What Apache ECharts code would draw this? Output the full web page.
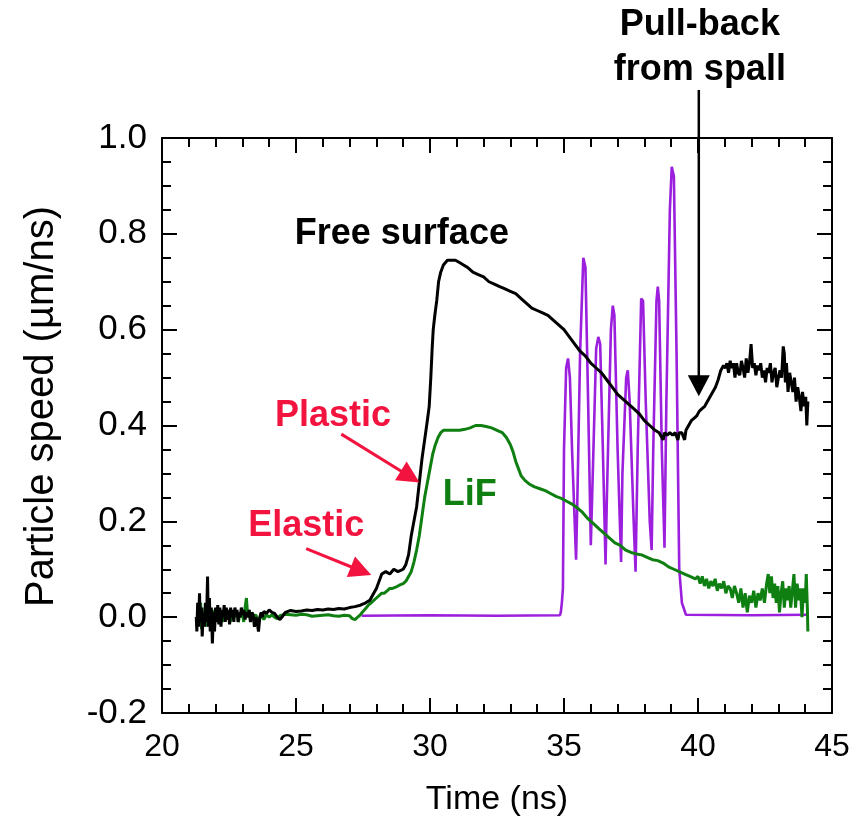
<!DOCTYPE html>
<html>
<head>
<meta charset="utf-8">
<script src="https://cdn.jsdelivr.net/npm/echarts@6/dist/echarts.min.js"></script>
<style>
  html, body { margin: 0; padding: 0; background: #fff; }
  #chart { width: 867px; height: 822px; }
</style>
</head>
<body>
<div id="chart"></div>
<script>
// Free-surface velocity trace, [time ns, speed um/ns]
const freeSurface = [
  [21.28,0.00],[21.30,-0.03],[21.33,0.03],[21.36,-0.02],[21.40,0.05],[21.43,-0.01],[21.47,0.02],[21.50,-0.04],
  [21.54,0.01],[21.58,-0.02],[21.62,0.03],[21.66,-0.01],[21.70,0.085],[21.73,-0.02],[21.77,0.04],[21.80,-0.03],
  [21.84,0.02],[21.88,-0.055],[21.92,0.01],[21.96,-0.03],[22.00,0.02],[22.04,-0.01],[22.08,0.025],[22.12,-0.015],
  [22.16,0.02],[22.20,-0.02],[22.24,0.015],[22.28,0.00],[22.32,0.025],[22.36,-0.01],[22.40,0.02],[22.44,-0.005],
  [22.48,0.015],[22.52,-0.015],[22.56,0.02],[22.60,0.00],[22.64,0.015],[22.68,-0.01],[22.72,0.02],[22.76,0.005],
  [22.80,0.015],[22.84,-0.01],[22.88,0.01],[22.92,0.00],[22.96,0.02],[23.00,0.005],[23.05,0.015],[23.10,-0.005],
  [23.15,0.01],[23.20,0.00],[23.25,0.015],[23.30,-0.01],[23.35,0.01],[23.40,0.005],[23.45,-0.02],[23.50,0.00],
  [23.55,-0.01],[23.60,-0.03],[23.65,0.00],[23.70,0.01],[23.75,0.00],[23.80,0.012],[23.90,0.008],[24.00,0.015],
  [24.10,0.01],[24.20,0.008],[24.30,0.00],[24.40,-0.005],[24.50,0.002],[24.60,0.01],[24.70,0.012],[24.80,0.014],
  [25.00,0.012],[25.20,0.013],[25.40,0.015],[25.60,0.014],[25.80,0.016],[26.00,0.015],[26.20,0.017],[26.40,0.016],
  [26.60,0.018],[26.80,0.017],[27.00,0.02],[27.20,0.022],[27.40,0.025],[27.60,0.03],[27.75,0.035],[27.90,0.05],
  [28.00,0.06],[28.10,0.075],[28.20,0.09],[28.35,0.095],[28.50,0.09],[28.65,0.10],[28.80,0.095],[29.00,0.10],
  [29.10,0.11],[29.20,0.13],[29.30,0.17],[29.40,0.20],[29.50,0.23],[29.60,0.28],[29.70,0.33],[29.80,0.37],
  [29.90,0.41],[29.97,0.44],[30.03,0.50],[30.08,0.56],[30.12,0.60],[30.18,0.63],[30.25,0.66],[30.32,0.70],
  [30.40,0.72],[30.50,0.735],[30.65,0.745],[30.80,0.745],[30.95,0.745],[31.10,0.74],[31.25,0.735],[31.40,0.73],
  [31.60,0.72],[31.80,0.715],[32.00,0.71],[32.20,0.70],[32.40,0.695],[32.60,0.69],[32.80,0.685],[33.00,0.68],
  [33.20,0.675],[33.40,0.665],[33.60,0.655],[33.80,0.645],[34.00,0.64],[34.20,0.635],[34.40,0.63],[34.60,0.62],
  [34.80,0.61],[35.00,0.60],[35.20,0.585],[35.40,0.57],[35.60,0.555],[35.80,0.545],[36.00,0.53],[36.20,0.52],
  [36.40,0.51],[36.60,0.495],[36.80,0.48],[37.00,0.465],[37.20,0.455],[37.40,0.445],[37.60,0.435],[37.80,0.425],
  [38.00,0.41],[38.20,0.40],[38.40,0.39],[38.55,0.385],[38.65,0.375],[38.70,0.37],[38.75,0.385],[38.85,0.38],
  [38.95,0.385],[39.05,0.38],[39.15,0.385],[39.25,0.37],[39.30,0.385],[39.40,0.385],[39.50,0.37],[39.55,0.39],
  [39.65,0.40],[39.75,0.41],[39.85,0.415],[39.95,0.42],[40.05,0.43],[40.15,0.435],[40.25,0.44],[40.35,0.45],
  [40.45,0.46],[40.55,0.47],[40.65,0.48],[40.75,0.495],[40.85,0.515],[40.95,0.525],[41.02,0.52],[41.08,0.53],
  [41.14,0.51],[41.20,0.535],[41.26,0.52],[41.32,0.53],[41.38,0.50],[41.44,0.53],[41.50,0.51],[41.56,0.505],
  [41.62,0.535],[41.68,0.52],[41.74,0.50],[41.80,0.54],[41.86,0.51],[41.92,0.53],[41.98,0.57],[42.04,0.52],
  [42.10,0.53],[42.16,0.505],[42.22,0.525],[42.28,0.515],[42.34,0.53],[42.40,0.50],[42.46,0.515],[42.52,0.49],
  [42.58,0.52],[42.64,0.51],[42.70,0.53],[42.76,0.49],[42.82,0.51],[42.88,0.52],[42.94,0.48],[43.00,0.50],
  [43.06,0.515],[43.12,0.50],[43.18,0.565],[43.22,0.55],[43.26,0.49],[43.30,0.53],[43.36,0.47],[43.42,0.51],
  [43.48,0.49],[43.54,0.47],[43.60,0.50],[43.66,0.45],[43.72,0.48],[43.78,0.46],[43.84,0.43],[43.90,0.47],
  [43.96,0.44],[44.02,0.46],[44.06,0.40],[44.10,0.45]
];

// LiF window interface trace
const lifWindow = [
  [21.28,0.00],[21.32,-0.02],[21.36,0.02],[21.40,-0.01],[21.44,0.03],[21.48,-0.025],[21.52,0.01],[21.56,-0.01],
  [21.60,0.02],[21.64,-0.02],[21.68,0.015],[21.72,-0.01],[21.76,0.02],[21.80,-0.015],[21.84,0.01],[21.88,-0.02],
  [21.92,0.015],[21.96,-0.005],[22.00,0.01],[22.05,-0.01],[22.10,0.015],[22.15,0.00],[22.20,0.01],[22.25,-0.01],
  [22.30,0.015],[22.35,0.00],[22.40,0.01],[22.45,-0.005],[22.50,0.01],[22.55,-0.01],[22.60,0.005],[22.65,-0.005],
  [22.70,0.01],[22.75,0.00],[22.80,0.01],[22.85,-0.01],[22.90,0.005],[22.95,0.00],[23.00,0.01],[23.05,-0.01],
  [23.10,0.02],[23.15,0.04],[23.20,0.00],[23.25,0.015],[23.30,-0.005],[23.35,0.01],[23.40,0.00],[23.50,0.005],
  [23.60,-0.01],[23.70,0.005],[23.80,-0.005],[23.90,0.005],[24.00,0.00],[24.10,0.005],[24.20,0.00],[24.30,-0.003],
  [24.40,0.003],[24.60,0.006],[24.80,0.005],[25.00,0.004],[25.20,0.006],[25.40,0.005],[25.60,0.002],[25.80,0.003],
  [26.00,0.004],[26.20,0.005],[26.40,0.003],[26.60,0.002],[26.80,0.004],[27.00,0.003],[27.10,-0.003],[27.20,-0.005],
  [27.30,0.00],[27.40,0.005],[27.50,0.012],[27.60,0.018],[27.70,0.025],[27.80,0.03],[27.90,0.035],[28.00,0.04],
  [28.10,0.045],[28.20,0.05],[28.30,0.05],[28.40,0.055],[28.50,0.06],[28.60,0.06],[28.70,0.062],[28.80,0.065],
  [28.90,0.068],[29.00,0.07],[29.10,0.075],[29.20,0.085],[29.30,0.095],[29.40,0.115],[29.50,0.14],[29.60,0.17],
  [29.70,0.21],[29.80,0.25],[29.90,0.28],[30.00,0.31],[30.10,0.34],[30.20,0.36],[30.30,0.375],[30.40,0.385],
  [30.50,0.39],[30.70,0.39],[30.90,0.39],[31.10,0.39],[31.30,0.392],[31.50,0.395],[31.70,0.40],[31.90,0.40],
  [32.10,0.398],[32.30,0.395],[32.50,0.39],[32.70,0.385],[32.85,0.375],[33.00,0.36],[33.10,0.345],[33.20,0.325],
  [33.30,0.31],[33.40,0.295],[33.55,0.285],[33.70,0.278],[33.90,0.272],[34.10,0.268],[34.30,0.264],[34.50,0.258],
  [34.70,0.252],[34.90,0.248],[35.10,0.242],[35.30,0.236],[35.50,0.228],[35.70,0.218],[35.90,0.205],[36.10,0.195],
  [36.30,0.185],[36.50,0.175],[36.70,0.165],[36.90,0.155],[37.10,0.15],[37.30,0.14],[37.50,0.135],[37.70,0.132],
  [37.90,0.13],[38.10,0.125],[38.30,0.12],[38.50,0.118],[38.70,0.113],[38.90,0.105],[39.10,0.10],[39.30,0.095],
  [39.50,0.09],[39.70,0.085],[39.90,0.08],[40.00,0.085],[40.08,0.07],[40.16,0.085],[40.24,0.065],[40.32,0.08],
  [40.40,0.06],[40.48,0.075],[40.56,0.065],[40.64,0.08],[40.72,0.055],[40.80,0.07],[40.88,0.06],[40.96,0.075],
  [41.04,0.05],[41.12,0.065],[41.20,0.06],[41.28,0.04],[41.36,0.065],[41.44,0.05],[41.52,0.03],[41.60,0.06],
  [41.68,0.02],[41.76,0.05],[41.84,0.01],[41.92,0.045],[42.00,0.03],[42.08,0.055],[42.16,0.02],[42.24,0.05],
  [42.32,0.035],[42.40,0.06],[42.48,0.03],[42.56,0.07],[42.62,0.09],[42.68,0.05],[42.74,0.085],[42.80,0.04],
  [42.86,0.07],[42.92,0.03],[42.98,0.065],[43.04,0.01],[43.10,0.05],[43.16,0.075],[43.22,0.02],[43.28,0.06],
  [43.34,0.035],[43.40,0.065],[43.46,0.02],[43.52,0.055],[43.58,0.09],[43.64,0.02],[43.70,0.07],[43.76,0.035],
  [43.82,0.06],[43.88,0.00],[43.94,0.06],[44.00,0.03],[44.04,0.09],[44.08,0.02],[44.10,-0.03]
];

// Fringe-counting trace (purple)
const fringeTrace = [
  [27.45,0.003],[30.00,0.004],[32.50,0.003],[34.85,0.004],[34.88,0.01],[34.92,0.03],[34.96,0.06],[35.00,0.35],
  [35.08,0.52],[35.15,0.54],[35.22,0.50],[35.30,0.35],[35.45,0.12],[35.50,0.25],[35.60,0.55],[35.72,0.75],
  [35.80,0.73],[35.90,0.45],[36.00,0.15],[36.05,0.25],[36.20,0.56],[36.28,0.585],[36.35,0.57],[36.45,0.35],
  [36.55,0.11],[36.60,0.25],[36.75,0.60],[36.82,0.65],[36.88,0.63],[37.00,0.35],[37.13,0.115],[37.18,0.30],
  [37.32,0.50],[37.38,0.515],[37.45,0.45],[37.60,0.20],[37.67,0.095],[37.75,0.35],[37.88,0.665],[37.95,0.66],
  [38.05,0.45],[38.20,0.20],[38.27,0.14],[38.33,0.35],[38.45,0.66],[38.50,0.69],[38.55,0.66],[38.65,0.35],
  [38.75,0.145],[38.82,0.45],[38.95,0.85],[39.02,0.94],[39.10,0.92],[39.20,0.55],[39.30,0.10],[39.40,0.03],
  [39.55,0.005],[42.00,0.004],[44.10,0.005]
];

// Axis ranges and tick labels
const timeRange = [20, 45];
const timeStep = 5;
const speedRange = [-0.2, 1.0];
const speedStep = 0.2;

// Annotation anchors in data coordinates
const labelFree = { text: 'Free surface', at: [28.95, 0.80] };
const labelPlastic = { text: 'Plastic', at: [26.38, 0.42] };
const labelElastic = { text: 'Elastic', at: [25.38, 0.19] };
const labelLiF = { text: 'LiF', at: [31.48, 0.254] };
const labelSpall = { text: 'Pull-back\nfrom spall', at: [40.07, 1.188] };
const arrowPlastic = { from: [26.69, 0.382], to: [29.61, 0.281] };
const arrowElastic = { from: [25.38, 0.143], to: [27.81, 0.088] };
const arrowSpall = { from: [40.03, 1.10], to: [40.03, 0.461] };

const FONT = '"Liberation Sans", Arial, Helvetica, sans-serif';
const RED = '#f2143f';
const GREEN = '#0f7f12';
const PURPLE = '#9b1fdc';

function axisCommon(extra) {
  return Object.assign({
    type: 'value',
    axisLine: { show: true, onZero: false, lineStyle: { color: '#000', width: 2 } },
    axisTick: { show: true, inside: true, length: 15, lineStyle: { color: '#000', width: 2 } },
    splitLine: { show: false },
    minorSplitLine: { show: false }
  }, extra);
}

const chart = echarts.init(document.getElementById('chart'), null, { renderer: 'canvas' });

chart.setOption({
  animation: false,
  backgroundColor: '#fff',
  grid: { left: 162, right: 35, top: 138, bottom: 107 },
  xAxis: [
    axisCommon({
      position: 'bottom', min: timeRange[0], max: timeRange[1], interval: timeStep,
      minorTick: { show: true, splitNumber: 5, length: 9, lineStyle: { color: '#000', width: 2 } },
      axisLabel: { margin: 18, color: '#000', fontFamily: FONT, fontSize: 32 },
      name: 'Time (ns)', nameLocation: 'middle', nameGap: 70,
      nameTextStyle: { color: '#000', fontFamily: FONT, fontSize: 34 }
    }),
    axisCommon({
      position: 'top', min: timeRange[0], max: timeRange[1], interval: timeStep,
      minorTick: { show: true, splitNumber: 5, length: 9, lineStyle: { color: '#000', width: 2 } },
      axisLabel: { show: false }
    })
  ],
  yAxis: [
    axisCommon({
      position: 'left', min: speedRange[0], max: speedRange[1], interval: speedStep,
      minorTick: { show: true, splitNumber: 4, length: 9, lineStyle: { color: '#000', width: 2 } },
      axisLabel: { margin: 15, formatter: v => v.toFixed(1), color: '#000', fontFamily: FONT, fontSize: 35 },
      name: 'Particle speed (µm/ns)', nameLocation: 'middle', nameGap: 100,
      nameTextStyle: { color: '#000', fontFamily: FONT, fontSize: 40, padding: [0, 0, 0, 38] }
    }),
    axisCommon({
      position: 'right', min: speedRange[0], max: speedRange[1], interval: speedStep,
      minorTick: { show: true, splitNumber: 4, length: 9, lineStyle: { color: '#000', width: 2 } },
      axisLabel: { show: false }
    })
  ],
  series: [
    { type: 'line', name: 'fringes', data: fringeTrace, showSymbol: false, symbol: 'none',
      lineStyle: { color: PURPLE, width: 2.6 }, z: 2 },
    { type: 'line', name: 'LiF', data: lifWindow, showSymbol: false, symbol: 'none',
      lineStyle: { color: GREEN, width: 3 }, z: 3 },
    { type: 'line', name: 'Free surface', data: freeSurface, showSymbol: false, symbol: 'none',
      lineStyle: { color: '#000', width: 3 }, z: 4 }
  ]
});

// Annotations placed through the chart's own coordinate conversion
function px(p) { return chart.convertToPixel({ xAxisIndex: 0, yAxisIndex: 0 }, p); }

function textEl(lbl, color, size, lineH) {
  const p = px(lbl.at);
  return {
    type: 'text', z: 10,
    style: { text: lbl.text, x: p[0], y: p[1], fill: color, font: 'bold ' + size + 'px ' + FONT,
             align: 'center', verticalAlign: 'middle', lineHeight: lineH || size * 1.2 }
  };
}

function arrowEls(a, color, width, headLen, headHalf) {
  const s = px(a.from), e = px(a.to);
  const dx = e[0] - s[0], dy = e[1] - s[1];
  const L = Math.hypot(dx, dy), ux = dx / L, uy = dy / L;
  const bx = e[0] - ux * headLen, by = e[1] - uy * headLen;
  return [
    { type: 'line', z: 10, shape: { x1: s[0], y1: s[1], x2: bx + ux * 2, y2: by + uy * 2 },
      style: { stroke: color, lineWidth: width } },
    { type: 'polygon', z: 10,
      shape: { points: [[e[0], e[1]], [bx - uy * headHalf, by + ux * headHalf], [bx + uy * headHalf, by - ux * headHalf]] },
      style: { fill: color } }
  ];
}

chart.setOption({
  graphic: [
    textEl(labelFree, '#000', 36),
    textEl(labelPlastic, RED, 36),
    textEl(labelElastic, RED, 36),
    textEl(labelLiF, GREEN, 36),
    textEl(labelSpall, '#000', 36, 45),
    ...arrowEls(arrowPlastic, RED, 3, 22, 11),
    ...arrowEls(arrowElastic, RED, 3, 22, 11),
    ...arrowEls(arrowSpall, '#000', 2.5, 21, 11)
  ]
});
</script>
</body>
</html>
